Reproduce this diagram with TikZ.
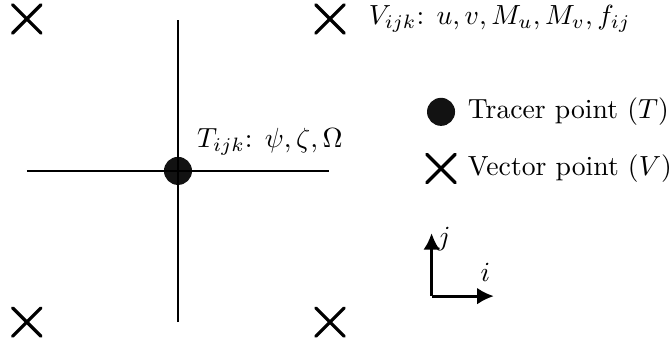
\documentclass[tikz,border=0pt]{standalone}
\usepackage{amsmath, amssymb}
\usepackage{tikz}
\usetikzlibrary{
    arrows.meta,
    calc,
    positioning
}

\tikzset{
    vpoint/.style={line width=1.2pt, line cap=round},
    tpoint/.style={fill=black!93},
    gridline/.style={line width=0.9pt}
}

\begin{document}
\begin{tikzpicture}
  \useasboundingbox (-2.26,-2.21) rectangle (6.26,2.17);

  % Tracer point at the centre
  \fill[tpoint] (0,0) circle (0.178);
  \coordinate (T) at (0,0);

  % Grid lines through the tracer point
  \coordinate (W) at (-1.92,0);
  \coordinate (E) at (1.92,0);
  \coordinate (N) at (0,1.92);
  \coordinate (S) at (0,-1.92);
  \draw[gridline] (W) -- (E);
  \draw[gridline] (S) -- (N);
  \node[anchor=south west, inner sep=1pt] (Tlab) at (0.2,0.16) {$T_{ijk}$: $\psi, \zeta, \Omega$};

  % Vector points at the corners
  \foreach \name/\x/\y in {VNW/-1.92/1.93, VNE/1.93/1.93, VSW/-1.92/-1.92, VSE/1.93/-1.92} {
    \coordinate (\name) at (\x,\y);
    \draw[vpoint] ($(\name)+(-0.18,-0.18)$) -- ($(\name)+(0.18,0.18)$);
    \draw[vpoint] ($(\name)+(-0.18,0.18)$) -- ($(\name)+(0.18,-0.18)$);
  }
  \node[right=0.45 of VNE, inner sep=1pt] (Vlab) {$V_{ijk}$: $u, v, M_u, M_v, f_{ij}$};

  % Legend
  \fill[tpoint] (3.34,0.75) circle (0.178);
  \coordinate (legT) at (3.34,0.75);
  \node[right=0.3 of legT, inner sep=1pt] (legTtext) {Tracer point ($T$)};
  \coordinate (legV) at (3.34,0.03);
  \draw[vpoint] ($(legV)+(-0.18,-0.18)$) -- ($(legV)+(0.18,0.18)$);
  \draw[vpoint] ($(legV)+(-0.18,0.18)$) -- ($(legV)+(0.18,-0.18)$);
  \node[right=0.3 of legV, inner sep=1pt] (legVtext) {Vector point ($V$)};

  % Index directions
  \coordinate (O) at (3.22,-1.59);
  \coordinate (I) at (4.01,-1.59);
  \coordinate (J) at (3.22,-0.79);
  \draw[line width=1pt, -{Latex[length=6pt, width=6pt]}] (O) -- (I);
  \draw[line width=1pt, -{Latex[length=6pt, width=6pt]}] (O) -- (J);
  \node[above=4pt of I, xshift=-3pt, inner sep=1pt] (ilab) {$i$};
  \node[right=1pt of J, yshift=-2pt, inner sep=1pt] (jlab) {$j$};

\end{tikzpicture}
\end{document}
